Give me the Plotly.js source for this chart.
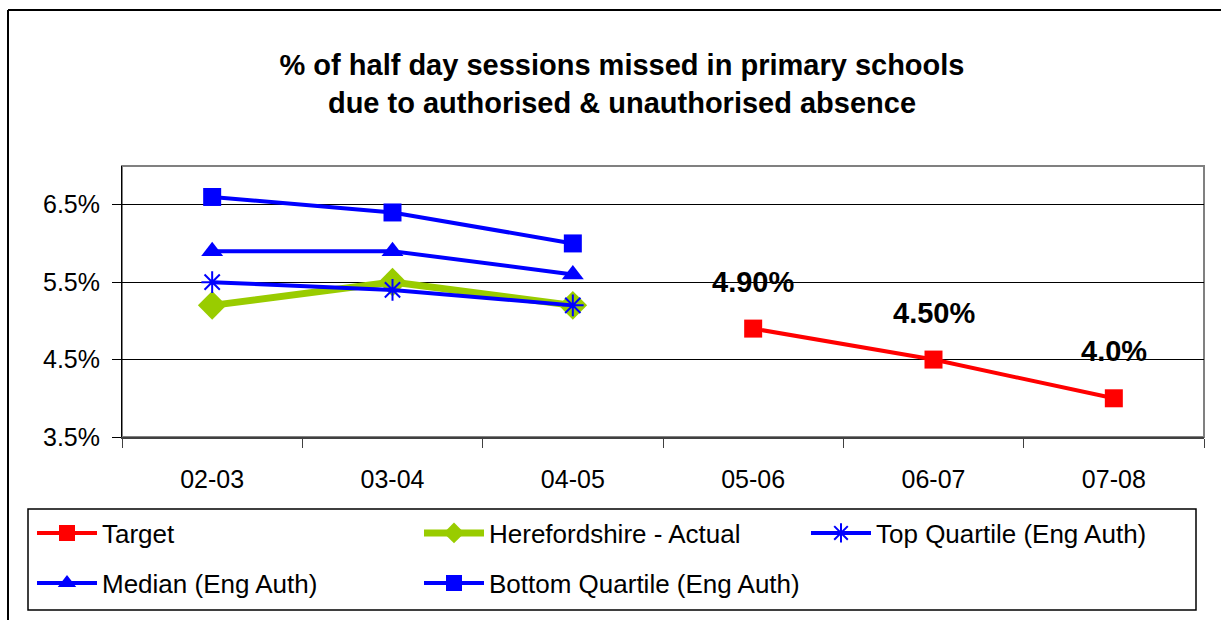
<!DOCTYPE html>
<html>
<head>
<meta charset="utf-8">
<script src="https://cdn.plot.ly/plotly-3.0.1.min.js"></script>
<style>
  html, body { margin: 0; padding: 0; background: #fff; }
  #chart { width: 1221px; height: 620px; }
</style>
</head>
<body>
<div id="chart"></div>
<script>
// ---- data ----
const categories = ['02-03', '03-04', '04-05', '05-06', '06-07', '07-08'];
const target       = [null, null, null, 4.9, 4.5, 4.0];
const targetLabels = ['', '', '', '4.90%', '4.50%', '4.0%'];
const herefordshire = [5.2, 5.5, 5.2, null, null, null];
const topQuartile   = [5.5, 5.4, 5.2, null, null, null];
const median        = [5.9, 5.9, 5.6, null, null, null];
const bottomQuartile = [6.6, 6.4, 6.0, null, null, null];
const yTicks = [3.5, 4.5, 5.5, 6.5];

const FONT = '"Liberation Sans", Arial, Helvetica, sans-serif';
const RED = '#FF0000', GREEN = '#99CC00', BLUE = '#0000FF';

const traces = [
  { name: 'Target', x: categories, y: target, mode: 'lines+markers',
    line: { color: RED, width: 4 }, marker: { symbol: 'square', size: 18, color: RED },
    legend: 'legend' },
  { name: 'Herefordshire - Actual', x: categories, y: herefordshire, mode: 'lines+markers',
    line: { color: GREEN, width: 7 }, marker: { symbol: 'diamond', size: 22, color: GREEN },
    legend: 'legend' },
  { name: 'Top Quartile (Eng Auth)', x: categories, y: topQuartile, mode: 'lines+markers',
    line: { color: BLUE, width: 4 },
    marker: { symbol: 'asterisk-open', size: 18, color: BLUE, line: { color: BLUE, width: 2 } },
    legend: 'legend' },
  { name: 'Median (Eng Auth)', x: categories, y: median, mode: 'lines+markers',
    line: { color: BLUE, width: 4 }, marker: { symbol: 'triangle-up', size: 19, color: BLUE },
    legend: 'legend2' },
  { name: 'Bottom Quartile (Eng Auth)', x: categories, y: bottomQuartile, mode: 'lines+markers',
    line: { color: BLUE, width: 4 }, marker: { symbol: 'square', size: 18, color: BLUE },
    legend: 'legend2' }
];

const annotations = [];
categories.forEach((c, i) => {
  if (targetLabels[i]) {
    annotations.push({
      x: c, y: target[i], xref: 'x', yref: 'y', text: targetLabels[i],
      showarrow: false, yshift: 47, xanchor: 'center', yanchor: 'middle',
      font: { family: FONT, size: 29, color: '#000', weight: 'bold' }
    });
  }
});

// plot area in pixels: left 122, right 1204, top 166, bottom 437
const L = 122, R = 1204, T = 166, B = 437, W = R - L, H = B - T;
const px = v => (v - L) / W;
const py = v => (B - v) / H;

const legendCommon = {
  orientation: 'h', xref: 'paper', yref: 'paper', xanchor: 'left', yanchor: 'middle',
  entrywidth: 312, entrywidthmode: 'pixels', itemwidth: 60,
  borderwidth: 0, bgcolor: 'rgba(0,0,0,0)',
  font: { family: FONT, size: 26, color: '#000' }, itemclick: false, itemdoubleclick: false
};

const layout = {
  width: 1221, height: 620,
  paper_bgcolor: '#fff', plot_bgcolor: '#fff',
  margin: { l: L, r: 1221 - R, t: T, b: 620 - B, autoexpand: false },
  font: { family: FONT, color: '#000' },
  title: {
    text: '% of half day sessions missed in primary schools<br>due to authorised & unauthorised absence',
    x: 622 / 1221, xref: 'container', xanchor: 'center',
    y: 1 - 75 / 620, yref: 'container', yanchor: 'top',
    font: { family: FONT, size: 29, color: '#000', weight: 'bold' }
  },
  xaxis: {
    type: 'category', categoryorder: 'array', categoryarray: categories,
    range: [-0.5, categories.length - 0.5],
    showgrid: false, zeroline: false,
    showline: true, linecolor: '#404040', linewidth: 2,
    ticks: 'outside', tickson: 'boundaries', ticklen: 9, tickcolor: '#404040', tickwidth: 1,
    ticklabelstandoff: 19,
    tickfont: { family: FONT, size: 25, color: '#000' }
  },
  yaxis: {
    range: [3.5, 7.0], tickmode: 'array', tickvals: yTicks,
    ticktext: yTicks.map(v => v.toFixed(1) + '%'),
    showgrid: true, gridcolor: '#000', gridwidth: 1, zeroline: false,
    showline: true, linecolor: '#000', linewidth: 1,
    ticks: 'outside', ticklen: 9, tickcolor: '#000', tickwidth: 1,
    ticklabelstandoff: 7,
    tickfont: { family: FONT, size: 25, color: '#000' }
  },
  legend: Object.assign({}, legendCommon, { x: px(32), y: py(533) }),
  legend2: Object.assign({}, legendCommon, { x: px(32), y: py(583) }),
  showlegend: true,
  annotations: annotations,
  shapes: [
    // plot-area border (grey top/right)
    { type: 'rect', xref: 'paper', yref: 'paper', x0: 0, x1: 1, y0: 0, y1: 1,
      line: { color: '#808080', width: 2 }, layer: 'below' },
    // legend box
    { type: 'rect', xref: 'paper', yref: 'paper', x0: px(28), x1: px(1196), y0: py(610), y1: py(509),
      line: { color: '#000', width: 1.5 } },
    // outer chart frame (left and top edges)
    { type: 'line', xref: 'paper', yref: 'paper', x0: px(8), x1: px(8), y0: py(10), y1: py(640),
      line: { color: '#000', width: 2 } },
    { type: 'line', xref: 'paper', yref: 'paper', x0: px(8), x1: px(1240), y0: py(10), y1: py(10),
      line: { color: '#000', width: 2 } }
  ]
};

Plotly.newPlot('chart', traces, layout, { displayModeBar: false, staticPlot: true });
</script>
</body>
</html>
